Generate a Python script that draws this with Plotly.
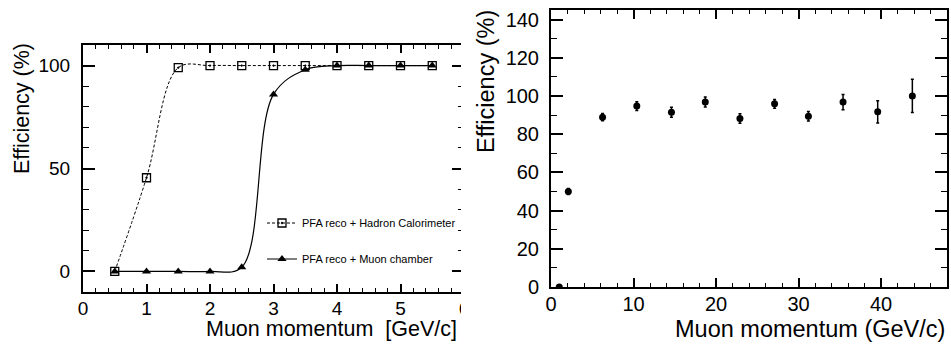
import plotly.graph_objects as go

# ---------------- data ----------------
# Left panel: efficiency vs muon momentum [GeV/c]
left_p = [0.5, 1.0, 1.5, 2.0, 2.5, 3.0, 3.5, 4.0, 4.5, 5.0, 5.5]
eff_hcal = [0, 45.5, 99, 100, 100, 100, 100, 100, 100, 100, 100]
eff_muon = [0, 0, 0, 0, 2, 86, 98, 100, 100, 100, 100]
name_hcal = "PFA reco + Hadron Calorimeter"
name_muon = "PFA reco + Muon chamber"

# Right panel: efficiency vs muon momentum (GeV/c)
right_p = [1.0, 2.1, 6.25, 10.4, 14.6, 18.7, 22.9, 27.1, 31.2, 35.4, 39.6, 43.8]
right_eff = [0, 50, 88.9, 94.7, 91.5, 96.8, 88.2, 95.9, 89.4, 96.8, 91.7, 100]
right_err = [0, 1.6, 1.9, 2.3, 2.6, 2.6, 2.5, 2.3, 2.5, 4.0, 5.8, 8.7]

W, H = 951, 344
FONT = "Liberation Sans, Arial, Helvetica, sans-serif"


def px(x):
    return x / W


def py(y):
    return (H - y) / H


fig = go.Figure()

fig.add_trace(go.Scatter(
    x=left_p, y=eff_hcal, name=name_hcal, mode="lines+markers",
    line=dict(color="black", width=1, dash="3px,2px", shape="spline", smoothing=1.0),
    marker=dict(symbol="square-open-dot", size=8, color="black", line=dict(width=1.3, color="black")),
    xaxis="x", yaxis="y", legend="legend"))

fig.add_trace(go.Scatter(
    x=left_p, y=eff_muon, name=name_muon, mode="lines+markers",
    line=dict(color="black", width=1.2, shape="spline", smoothing=1.0),
    marker=dict(symbol="triangle-up", size=8, color="black"),
    xaxis="x", yaxis="y", legend="legend2"))

fig.add_trace(go.Scatter(
    x=right_p, y=right_eff, mode="markers", showlegend=False,
    marker=dict(symbol="circle", size=7, color="black"),
    error_y=dict(type="data", array=right_err, color="black", thickness=1.5, width=1.5),
    xaxis="x2", yaxis="y2"))


def axis(size, **kw):
    d = dict(showgrid=False, zeroline=False, showline=True, linecolor="black", linewidth=2,
             mirror="allticks", ticks="inside", tickcolor="black", tickwidth=1.8,
             automargin=False, tickfont=dict(family=FONT, color="black", size=size))
    d.update(kw)
    return d


def minor(dt, ln):
    return dict(dtick=dt, ticklen=ln, ticks="inside", tickcolor="black", tickwidth=1.4)


fig.update_layout(
    template="none",
    width=W, height=H, margin=dict(l=0, r=0, t=0, b=0, autoexpand=False),
    paper_bgcolor="white", plot_bgcolor="white",
    font=dict(family=FONT, color="black"),
    xaxis=axis(19, domain=[px(83), px(464)], range=[0, 6], dtick=1, ticklen=8,
               minor=minor(0.2, 4), anchor="y", ticklabelstandoff=-2),
    yaxis=axis(19, domain=[py(292), py(45)], range=[-10, 110], tickvals=[0, 50, 100], ticklen=12,
               minor=minor(10, 6), anchor="x", ticklabelstandoff=7),
    xaxis2=axis(20, domain=[px(551), px(947)], range=[0, 48], dtick=10, ticklen=9,
                minor=minor(2, 4), anchor="y2", ticklabelstandoff=-2),
    yaxis2=axis(20, domain=[py(287), py(10)], range=[0, 145],
                tickvals=[0, 20, 40, 60, 80, 100, 120, 140], ticklen=12,
                minor=minor(10, 6), anchor="x2", ticklabelstandoff=6),
    legend=dict(x=px(262), y=py(223), xanchor="left", yanchor="middle", bgcolor="rgba(0,0,0,0)",
                font=dict(family=FONT, size=11, color="black")),
    legend2=dict(x=px(262), y=py(259), xanchor="left", yanchor="middle", bgcolor="rgba(0,0,0,0)",
                 font=dict(family=FONT, size=11, color="black")),
    showlegend=True,
)

# clip the left panel at its right edge (the original figure is cropped there)
fig.add_shape(type="rect", xref="paper", yref="paper", x0=px(461), x1=px(474), y0=0, y1=1,
              fillcolor="white", line=dict(width=0), layer="above")

ann = [
    dict(text="Efficiency (%)", x=px(22), y=py(109), textangle=-90, size=21.5),
    dict(text="Muon momentum\u00a0 [GeV/c]", x=px(459), y=py(329), xanchor="right", size=21.5),
    dict(text="Efficiency (%)", x=px(486), y=py(82), textangle=-90, size=23.5),
    dict(text="Muon momentum (GeV/c)", x=px(947), y=py(329), xanchor="right", size=23.5),
]
for a in ann:
    fig.add_annotation(text=a["text"], x=a["x"], y=a["y"], xref="paper", yref="paper",
                       xanchor=a.get("xanchor", "center"), yanchor="middle", showarrow=False,
                       textangle=a.get("textangle", 0),
                       font=dict(family=FONT, size=a["size"], color="black"))

fig.write_html("out.html", config={"displayModeBar": False},
               post_script="document.body.style.margin='0';document.body.style.overflow='hidden';")
